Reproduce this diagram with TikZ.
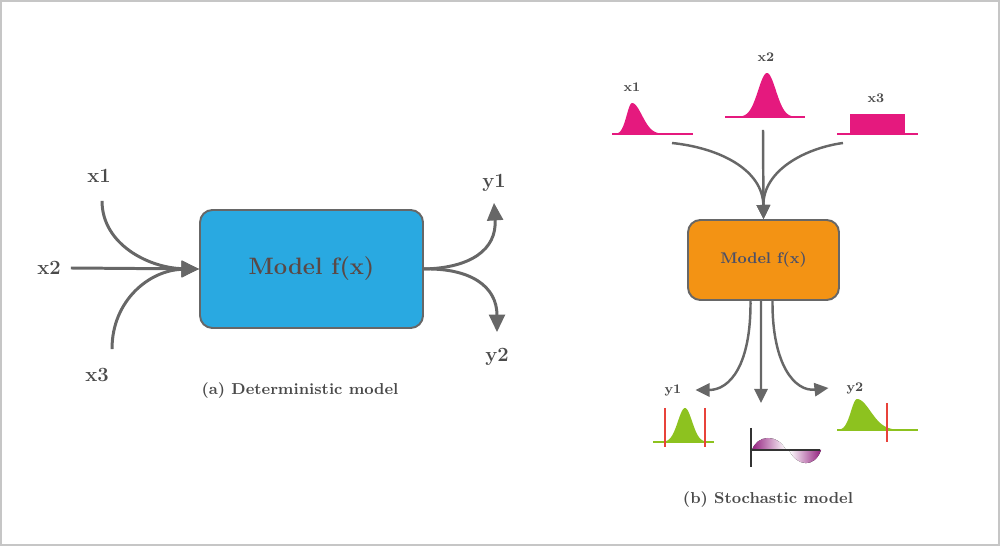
\documentclass[tikz,border=0pt]{standalone}
\usepackage{tikz}
\usepackage{xcolor}
\usetikzlibrary{arrows.meta}
\usetikzlibrary{positioning}

\definecolor{boxblue}{HTML}{29A9E1}
\definecolor{boxorange}{HTML}{F39314}
\definecolor{distpink}{HTML}{E5197E}
\definecolor{distgreen}{HTML}{8DC21F}
\definecolor{cutred}{HTML}{E8423A}
\definecolor{lobepurple}{HTML}{93217F}
\definecolor{flowgray}{HTML}{676767}
\definecolor{txtgray}{HTML}{4A4A4A}
\definecolor{modeltxt}{HTML}{5A4845}
\definecolor{modeltxtb}{HTML}{4B5068}

\begin{document}
\begin{tikzpicture}[x=0.02cm,y=-0.02cm,
    modelbox/.style={draw=flowgray,line width=1.1pt,rounded corners=7pt},
    flow/.style={draw=flowgray,line width=1.7pt,-{Triangle[length=10pt,width=9pt]}},
    flowsm/.style={draw=flowgray,line width=1.4pt,-{Triangle[length=8pt,width=7.5pt]}},
    lbl/.style={text=txtgray,font=\fontsize{11.5}{12}\selectfont\bfseries},
    lblsm/.style={text=txtgray,font=\fontsize{7.5}{8}\selectfont\bfseries},
    capt/.style={text=txtgray,font=\fontsize{9}{10}\selectfont\bfseries}]
        \useasboundingbox (0,0) rectangle (1000,546);
        \draw[gray!45,line width=0.8pt] (1,1) rectangle (999,545);

        % (a) deterministic
        \node[modelbox,fill=boxblue,minimum width=4.46cm,minimum height=2.36cm,
              text=modeltxt,font=\fontsize{13.5}{14}\selectfont\bfseries] (detbox) at (311.5,269) {Model f(x)};
        \node[lbl] (x1) at (99,176) {x1};
        \node[lbl] (x2) at (49,268) {x2};
        \node[lbl] (x3) at (97,375) {x3};
        \node[lbl] (y1) at (494,183) {y1};
        \node[lbl] (y2) at (497,357) {y2};
        \draw[flow] (x2.east) ++(4,0) coordinate (x2s) -- (detbox.west);
        \draw[flow] (x1.south) ++(3,12) coordinate (x1s) .. controls (102,245) and (150,268) .. (detbox.west);
        \draw[flow] (x3.north) ++(15,-13) coordinate (x3s) .. controls (112,300) and (150,270) .. (detbox.west);
        \draw[flow] (detbox.east) .. controls (470,268) and (497,250) .. ([yshift=-0.1cm]y1.south);
        \draw[flow] (detbox.east) .. controls (470,268) and (497,286) .. ([yshift=0.2cm]y2.north);
        \node[capt] (capa) at (300,391) {(a) Deterministic model};

        % (b) stochastic: inputs
        \fill[distpink] plot[domain=616:675,samples=60] (\x,{134-31*exp(-((\x-632)/(\x<632 ? 7.5 : 14))^2)}) -- cycle;
        \draw[distpink,line width=1.3pt] (612,134) -- (693,134);
        \fill[distpink] plot[domain=736:798,samples=60] (\x,{117-44*exp(-((\x-767)/12.5)^2)}) -- cycle;
        \draw[distpink,line width=1.3pt] (725,117) -- (805,117);
        \fill[distpink] (850,114) rectangle (905,134);
        \draw[distpink,line width=1.3pt] (837,134) -- (918,134);
        \node[lblsm] (in1) at (632,87) {x1};
        \node[lblsm] (in2) at (766,57) {x2};
        \node[lblsm] (in3) at (876,98) {x3};
        \coordinate (in1b) at (672,143);
        \coordinate (in2b) at (763,130);
        \coordinate (in3b) at (843,143);

        \node[modelbox,fill=boxorange,minimum width=3.02cm,minimum height=1.6cm,
              text=modeltxtb,font=\fontsize{8.8}{10}\selectfont\bfseries] (stobox) at (763.5,260) {Model f(x)};
        \draw[flowsm] (in1b) .. controls (720,148) and (763,170) .. (stobox.north);
        \draw[flowsm] (in2b) -- (stobox.north);
        \draw[flowsm] (in3b) .. controls (806,148) and (763,170) .. (stobox.north);

        % outputs
        \node[lblsm] (out1) at (673,390) {y1};
        \node[lblsm] (out2) at (855,388) {y2};
        \coordinate (mid) at (761,403);
        \draw[flowsm] ([xshift=-0.26cm]stobox.south) .. controls (751,365) and (730,390) .. ([xshift=0.16cm]out1.east);
        \draw[flowsm] ([xshift=-0.05cm]stobox.south) -- (mid);
        \draw[flowsm] ([xshift=0.18cm]stobox.south) .. controls (772,365) and (795,392) .. ([xshift=-0.24cm]out2.west);

        \fill[distgreen] plot[domain=664:707,samples=50] (\x,{442-34*exp(-((\x-685)/10)^2)}) -- cycle;
        \draw[distgreen,line width=1.3pt] (653,442) -- (714,442);
        \draw[cutred,line width=0.9pt] (665,408) -- (665,447);
        \draw[cutred,line width=0.9pt] (705,408) -- (705,447);

        \fill[distgreen] plot[domain=840:910,samples=60] (\x,{430-31*exp(-((\x-857)/(\x<857 ? 8.5 : 19))^2)}) -- cycle;
        \draw[distgreen,line width=1.3pt] (837,430) -- (918,430);
        \draw[cutred,line width=0.9pt] (887,403) -- (887,442);

        \draw[black!80,line width=1.2pt] (751,428) -- (751,467);
        \fill[left color=lobepurple,right color=white] (752,450) .. controls (757,435) and (777,433) .. (786,450) -- cycle;
        \fill[left color=white,right color=lobepurple] (789,450) .. controls (797,467) and (815,468) .. (821,450) -- cycle;
        \draw[black!80,line width=1pt] (751,450) -- (820,450);

        \node[capt] (capb) at (768,500) {(b) Stochastic model};
    \end{tikzpicture}
\end{document}
